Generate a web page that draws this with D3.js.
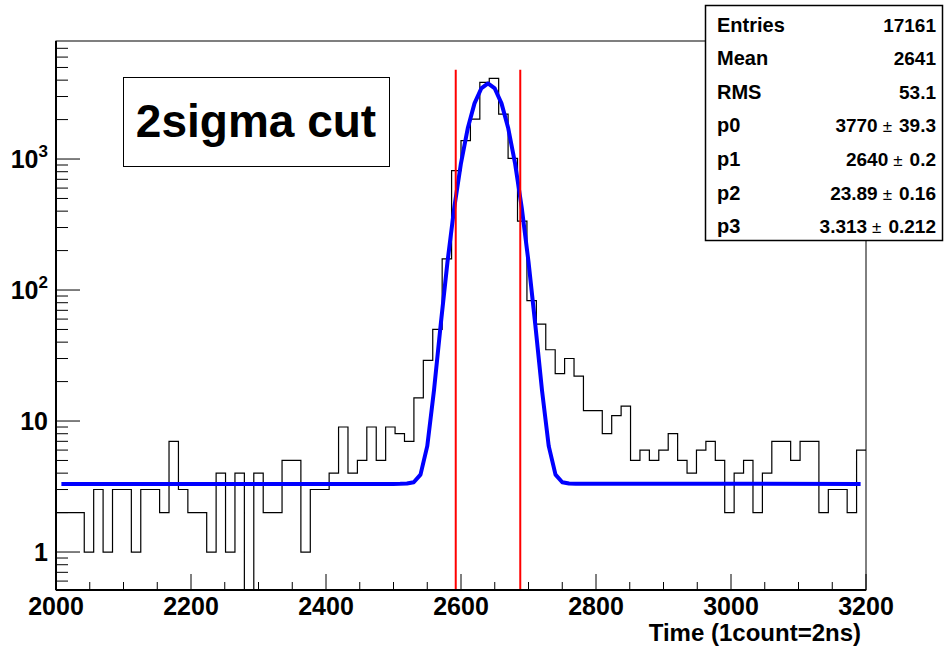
<!DOCTYPE html>
<html>
<head>
<meta charset="utf-8">
<script src="https://cdn.jsdelivr.net/npm/d3@7"></script>
<style>
body { margin: 0; background: #ffffff; }
text { font-family: "Liberation Sans", Arial, Helvetica, sans-serif; font-weight: bold; fill: #000; }
</style>
</head>
<body>
<svg id="plotCanvas" width="946" height="648"></svg>
<script>
// histogram contents, 86 bins between 2000 and 3200
var binCounts = [2, 2, 2, 1, 3, 1, 3, 3, 1, 3,
                 3, 2, 7, 3, 2, 2, 1, 4, 1, 4,
                 0, 4, 2, 2, 5, 5, 1, 3, 3, 4,
                 9, 4, 5, 9, 5, 9, 8, 7, 15, 29,
                 50, 173, 815, 1380, 2015, 3840, 4130, 2200, 1010, 336,
                 83, 55, 35, 23, 30, 22, 12, 12, 8, 11,
                 13, 5, 6, 5, 6, 8, 5, 4, 6, 7,
                 5, 2, 4, 5, 2, 4, 7, 7, 5, 7,
                 7, 2, 3, 3, 2, 6];
var xRange = [2000, 3200];
var yRange = [0.513, 7960];

var xMajorTicks = [2000, 2200, 2400, 2600, 2800, 3000, 3200];
var xMinorStep = 50;
var yDecades = [1, 10, 100, 1000];
var yDecadeBase = ["1", "10", "10", "10"];
var yDecadeExp = ["", "", "2", "3"];

// fitted gaus + constant
var fitX = [2008, 2500, 2510, 2520, 2530, 2540, 2550, 2560, 2570, 2580, 2590,
            2600, 2610, 2620, 2630, 2640, 2650, 2660, 2670, 2680, 2690,
            2700, 2710, 2720, 2730, 2740, 2750, 2760, 2770, 3192];
var fitY = [3.313, 3.313, 3.314, 3.33, 3.41, 3.90, 6.43, 17.15, 54.85, 164.2, 425.2,
            931.5, 1717, 2659, 3457, 3773, 3457, 2659, 1717, 931.5, 425.2,
            164.2, 54.85, 17.15, 6.43, 3.90, 3.41, 3.33, 3.314, 3.313];

// 2 sigma cut lines
var cutX = [2592.2, 2687.8];
var cutTop = 4800;

var statNames = ["Entries", "Mean", "RMS", "p0", "p1", "p2", "p3"];
var statValues = ["17161", "2641", "53.1", "3770", "2640", "23.89", "3.313"];
var statErrors = ["", "", "", "39.3", "0.2", "0.16", "0.212"];

var labelText = "2sigma cut";
var xTitle = "Time (1count=2ns)";

var frameLeft = 56, frameRight = 866, frameTop = 41, frameBottom = 590;

function drawPlot()
{
    var canvas = d3.select("#plotCanvas");

    canvas.append("rect")
        .attr("width", 946)
        .attr("height", 648)
        .attr("fill", "#ffffff");

    var x = d3.scaleLinear().domain(xRange).range([frameLeft, frameRight]);
    var y = d3.scaleLog().domain(yRange).range([frameBottom, frameTop]);

    canvas.append("clipPath")
        .attr("id", "frameClip")
        .append("rect")
        .attr("x", frameLeft)
        .attr("y", frameTop)
        .attr("width", frameRight - frameLeft)
        .attr("height", frameBottom - frameTop);

    // frame
    canvas.append("rect")
        .attr("x", frameLeft)
        .attr("y", frameTop)
        .attr("width", frameRight - frameLeft)
        .attr("height", frameBottom - frameTop)
        .attr("fill", "none")
        .attr("stroke", "#000")
        .attr("stroke-width", 1);

    // histogram as steps
    var binWidth = (xRange[1] - xRange[0]) / binCounts.length;
    var pts = binCounts.map(function(c, i) { return [xRange[0] + i * binWidth, c]; });
    pts.push([xRange[1], binCounts[binCounts.length - 1]]);

    var histLine = d3.line()
        .x(function(d) { return x(d[0]); })
        .y(function(d) { return d[1] > 0 ? y(d[1]) : frameBottom + 10; })
        .curve(d3.curveStepAfter);

    canvas.append("path")
        .attr("d", histLine(pts))
        .attr("fill", "none")
        .attr("stroke", "#000")
        .attr("stroke-width", 1.2)
        .attr("clip-path", "url(#frameClip)");

    // fit
    var fitLine = d3.line()
        .x(function(d, i) { return x(fitX[i]); })
        .y(function(d) { return y(d); });

    canvas.append("path")
        .attr("d", fitLine(fitY))
        .attr("fill", "none")
        .attr("stroke", "#0000ff")
        .attr("stroke-width", 4)
        .attr("stroke-linejoin", "round")
        .attr("clip-path", "url(#frameClip)");

    // cut lines
    canvas.selectAll(".cut")
        .data(cutX)
        .enter()
        .append("line")
        .attr("class", "cut")
        .attr("x1", function(d) { return x(d); })
        .attr("x2", function(d) { return x(d); })
        .attr("y1", y(cutTop))
        .attr("y2", frameBottom)
        .attr("stroke", "#ff0000")
        .attr("stroke-width", 2);

    // axes lines
    canvas.append("line")
        .attr("x1", frameLeft).attr("x2", frameRight)
        .attr("y1", frameBottom).attr("y2", frameBottom)
        .attr("stroke", "#000").attr("stroke-width", 2);
    canvas.append("line")
        .attr("x1", frameLeft).attr("x2", frameLeft)
        .attr("y1", frameTop).attr("y2", frameBottom)
        .attr("stroke", "#000").attr("stroke-width", 2);

    // x ticks
    var xMinor = d3.range(xRange[0], xRange[1] + 1, xMinorStep);
    canvas.selectAll(".xtick")
        .data(xMinor)
        .enter()
        .append("line")
        .attr("class", "xtick")
        .attr("x1", function(d) { return x(d); })
        .attr("x2", function(d) { return x(d); })
        .attr("y1", frameBottom)
        .attr("y2", function(d) { return xMajorTicks.indexOf(d) >= 0 ? frameBottom - 16 : frameBottom - 8; })
        .attr("stroke", "#000")
        .attr("stroke-width", 1);

    canvas.selectAll(".xlabel")
        .data(xMajorTicks)
        .enter()
        .append("text")
        .attr("class", "xlabel")
        .attr("x", function(d) { return x(d); })
        .attr("y", 615)
        .attr("text-anchor", "middle")
        .attr("font-size", "25px")
        .text(function(d) { return d; });

    canvas.append("text")
        .attr("x", 861)
        .attr("y", 641)
        .attr("text-anchor", "end")
        .attr("font-size", "24px")
        .text(xTitle);

    // y ticks
    var yTicks = y.ticks();
    canvas.selectAll(".ytick")
        .data(yTicks)
        .enter()
        .append("line")
        .attr("class", "ytick")
        .attr("x1", frameLeft)
        .attr("x2", function(d) { return yDecades.indexOf(d) >= 0 ? frameLeft + 24 : frameLeft + 12; })
        .attr("y1", function(d) { return y(d); })
        .attr("y2", function(d) { return y(d); })
        .attr("stroke", "#000")
        .attr("stroke-width", 1);

    yDecades.forEach(function(d, i)
    {
        var t = canvas.append("text")
            .attr("x", 48)
            .attr("y", y(d))
            .attr("dy", "0.36em")
            .attr("text-anchor", "end")
            .attr("font-size", "25px");
        t.append("tspan").text(yDecadeBase[i]);
        if(yDecadeExp[i] != "")
            t.append("tspan")
                .attr("font-size", "17px")
                .attr("dy", "-0.65em")
                .text(yDecadeExp[i]);
    });

    // label box
    canvas.append("rect")
        .attr("x", 123.5)
        .attr("y", 77.5)
        .attr("width", 266)
        .attr("height", 89)
        .attr("fill", "#fff")
        .attr("stroke", "#000")
        .attr("stroke-width", 1);
    canvas.append("text")
        .attr("x", 256)
        .attr("y", 137)
        .attr("text-anchor", "middle")
        .attr("font-size", "46px")
        .text(labelText);

    // stats box
    canvas.append("rect")
        .attr("x", 705.5)
        .attr("y", 5.5)
        .attr("width", 237)
        .attr("height", 235)
        .attr("fill", "#fff")
        .attr("stroke", "#000")
        .attr("stroke-width", 1.5);

    statNames.forEach(function(name, i)
    {
        var by = 31.5 + i * 33.6;
        canvas.append("text")
            .attr("x", 717)
            .attr("y", by)
            .attr("font-size", "20px")
            .text(name);
        var v = canvas.append("text")
            .attr("x", 936)
            .attr("y", by)
            .attr("text-anchor", "end")
            .attr("font-size", "19px");
        v.append("tspan").text(statValues[i]);
        if(statErrors[i] != "")
        {
            v.append("tspan")
                .attr("font-weight", "normal")
                .attr("font-size", "17px")
                .attr("dx", 5)
                .text("\u00b1");
            v.append("tspan")
                .attr("dx", 7)
                .text(statErrors[i]);
        }
    });
}

drawPlot();
</script>
</body>
</html>
